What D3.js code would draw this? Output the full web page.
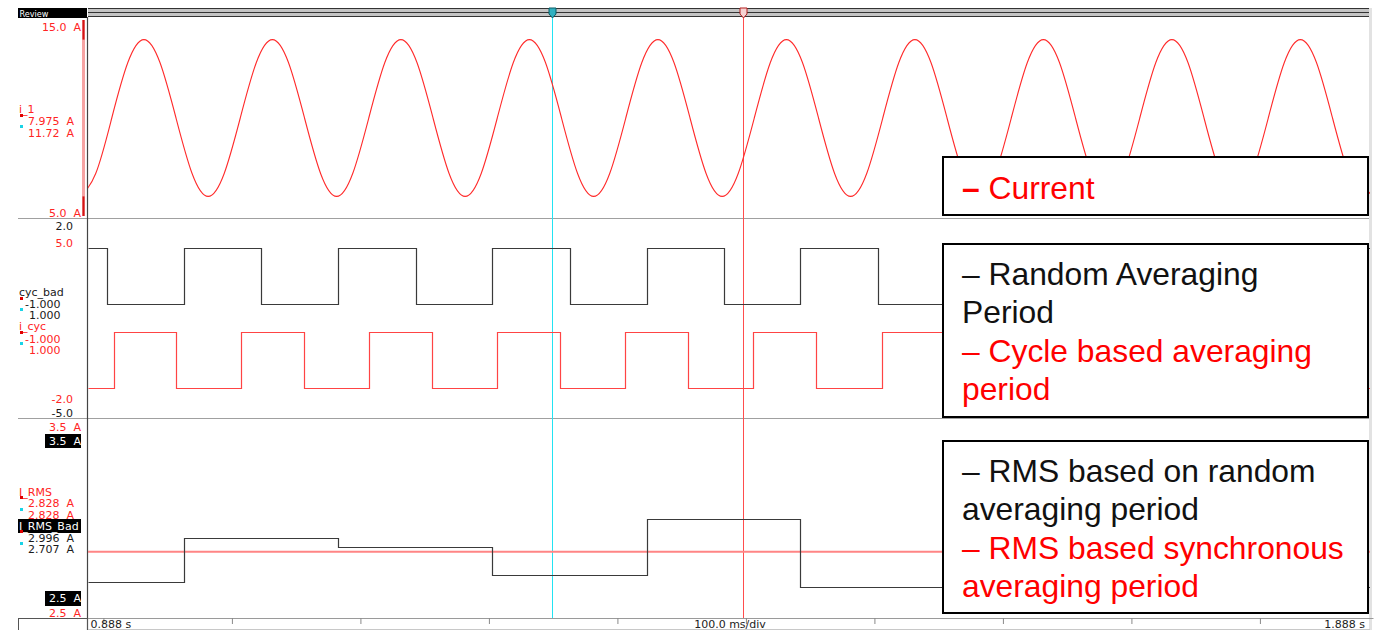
<!DOCTYPE html>
<html>
<head>
<meta charset="utf-8">
<script src="https://cdn.jsdelivr.net/npm/d3@7"></script>
<style>
  html, body { margin: 0; padding: 0; background: #fff; }
  svg { display: block; }
  .lbl { font-family: "DejaVu Sans", Verdana, sans-serif; font-size: 11px; white-space: pre; }
  .leg { font-family: "Liberation Sans", Arial, sans-serif; font-size: 31.8px; white-space: pre; }
</style>
</head>
<body>
<svg id="chart" width="1379" height="630"></svg>
<script>
// ---------------- data ----------------
const timeSpan = [0.888, 1.888];                       // seconds shown
const timeTicks = [0.9, 1.0, 1.1, 1.2, 1.3, 1.4, 1.5, 1.6, 1.7, 1.8];
const timeLabels = ["0.888 s", "100.0 ms/div", "1.888 s"];

// cursors: red (reference) and cyan
const cursorTimes = [1.3975, 1.2493];
const cursorNames = ["red", "cyan"];

// i_1 current, sampled every 1/8 cycle (A)
const currentT = [
  0.8815, 0.8940, 0.9065, 0.9190, 0.9315, 0.9440, 0.9565, 0.9690,
  0.9815, 0.9940, 1.0065, 1.0190, 1.0315, 1.0440, 1.0565, 1.0690,
  1.0815, 1.0940, 1.1065, 1.1190, 1.1315, 1.1440, 1.1565, 1.1690,
  1.1815, 1.1940, 1.2065, 1.2190, 1.2315, 1.2440, 1.2565, 1.2690,
  1.2815, 1.2940, 1.3065, 1.3190, 1.3315, 1.3440, 1.3565, 1.3690,
  1.3815, 1.3940, 1.4065, 1.4190, 1.4315, 1.4440, 1.4565, 1.4690,
  1.4815, 1.4940, 1.5065, 1.5190, 1.5315, 1.5440, 1.5565, 1.5690,
  1.5815, 1.5940, 1.6065, 1.6190, 1.6315, 1.6440, 1.6565, 1.6690,
  1.6815, 1.6940, 1.7065, 1.7190, 1.7315, 1.7440, 1.7565, 1.7690,
  1.7815, 1.7940, 1.8065, 1.8190, 1.8315, 1.8440, 1.8565, 1.8690,
  1.8815, 1.8940
];
const currentA = [
  6.00, 7.17, 10.00, 12.83, 14.00, 12.83, 10.00, 7.17,
  6.00, 7.17, 10.00, 12.83, 14.00, 12.83, 10.00, 7.17,
  6.00, 7.17, 10.00, 12.83, 14.00, 12.83, 10.00, 7.17,
  6.00, 7.17, 10.00, 12.83, 14.00, 12.83, 10.00, 7.17,
  6.00, 7.17, 10.00, 12.83, 14.00, 12.83, 10.00, 7.17,
  6.00, 7.17, 10.00, 12.83, 14.00, 12.83, 10.00, 7.17,
  6.00, 7.17, 10.00, 12.83, 14.00, 12.83, 10.00, 7.17,
  6.00, 7.17, 10.00, 12.83, 14.00, 12.83, 10.00, 7.17,
  6.00, 7.17, 10.00, 12.83, 14.00, 12.83, 10.00, 7.17,
  6.00, 7.17, 10.00, 12.83, 14.00, 12.83, 10.00, 7.17,
  6.00, 7.17
];

// cyc_bad: free-running averaging window (level after each edge)
const cycBadT = [0.888, 0.9026, 0.9627, 1.0226, 1.0823, 1.1430, 1.2024, 1.2631,
                 1.3228, 1.3829, 1.4423, 1.5028, 1.5627, 1.888];
const cycBadV = [1, -1, 1, -1, 1, -1, 1, -1, 1, -1, 1, -1, 1, 1];

// i_cyc: cycle-synchronous averaging window
const iCycT = [0.888, 0.9080, 0.9567, 1.0073, 1.0563, 1.1064, 1.1559, 1.2063, 1.2553,
               1.3061, 1.3547, 1.4053, 1.4545, 1.5059, 1.5550, 1.888];
const iCycV = [-1, 1, -1, 1, -1, 1, -1, 1, -1, 1, -1, 1, -1, 1, -1, -1];

// I_RMS_Bad: RMS over the free-running window (A)
const rmsBadT = [0.888, 0.9627, 1.0823, 1.2024, 1.3228, 1.4423, 1.888];
const rmsBadV = [2.673, 2.897, 2.854, 2.707, 2.996, 2.646, 2.646];

// I_RMS: RMS over the synchronous window (A)
const rmsSyncT = [0.888, 1.888];
const rmsSyncV = [2.828, 2.828];

// cursor readouts [red, cyan]
const i1Read = ["7.975", "11.72"];
const cycBadRead = ["-1.000", "1.000"];
const iCycRead = ["-1.000", "1.000"];
const rmsRead = ["2.828", "2.828"];
const rmsBadRead = ["2.996", "2.707"];

// vertical ranges per trace
const i1Range = [5, 15];
const cycBadRange = [-5, 2];
const iCycRange = [-2, 5];
const rmsRange = [2.5, 3.5];

// ---------------- drawing ----------------
const RED = "#ff2424", BLACK = "#1a1a1a";
const svg = d3.select("#chart");

const x = d3.scaleLinear().domain(timeSpan).range([88, 1373]);
const yI1 = d3.scaleLinear().domain(i1Range).range([216, 20]);
const yCycBad = d3.scaleLinear().domain(cycBadRange).range([416, 220]);
const yICyc = d3.scaleLinear().domain(iCycRange).range([416, 220]);
const yRms = d3.scaleLinear().domain(rmsRange).range([616, 420]);

const panels = [[18, 218], [218, 418], [418, 618]];
const defs = svg.append("defs");
panels.forEach((p, i) => {
  defs.append("clipPath").attr("id", "clip" + i)
    .append("rect").attr("x", 88).attr("y", p[0]).attr("width", 1282).attr("height", p[1] - p[0]);
});

// header bar
svg.append("rect").attr("x", 18).attr("y", 8).attr("width", 69).attr("height", 10).attr("fill", "#000");
svg.append("text").attr("x", 19.5).attr("y", 16.5).attr("fill", "#fff")
  .style("font-family", '"DejaVu Sans Condensed","DejaVu Sans",sans-serif').style("font-size", "9px").text("Review");
svg.append("rect").attr("x", 88).attr("y", 8).attr("width", 1282).attr("height", 9).attr("fill", "#c4c4c4");
[8.5, 12.5, 16.5].forEach(yy => {
  svg.append("line").attr("x1", 88).attr("x2", 1370).attr("y1", yy).attr("y2", yy)
    .attr("stroke", "#333").attr("stroke-width", 1.2);
});

// panel separators & frame
panels.forEach(p => {
  svg.append("line").attr("x1", 18).attr("x2", 1370).attr("y1", p[1] + 0.5).attr("y2", p[1] + 0.5)
    .attr("stroke", "#a0a0a0").attr("stroke-width", 1);
});
svg.append("line").attr("x1", 87.5).attr("x2", 87.5).attr("y1", 17).attr("y2", 630)
  .attr("stroke", "#444").attr("stroke-width", 1.2);
svg.append("rect").attr("x", 1369).attr("y", 8).attr("width", 3).attr("height", 622).attr("fill", "#e2e2e2");
svg.append("rect").attr("x", 18.5).attr("y", 618.5).attr("width", 69).attr("height", 13)
  .attr("fill", "none").attr("stroke", "#555");
svg.append("line").attr("x1", 88).attr("x2", 1370).attr("y1", 629.5).attr("y2", 629.5)
  .attr("stroke", "#c8c8c8");

// level bar of i_1
svg.append("rect").attr("x", 82).attr("y", 20).attr("width", 3).attr("height", 196).attr("fill", "#f6a3a3");
svg.append("rect").attr("x", 82.5).attr("y", yI1(15)).attr("width", 2).attr("height", yI1(14) - yI1(15)).attr("fill", "#d41414");
svg.append("rect").attr("x", 82.5).attr("y", yI1(6)).attr("width", 2).attr("height", yI1(5) - yI1(6)).attr("fill", "#d41414");

// cursors
const cursorStyle = {
  red:  { line: "#ff4d4d", fill: "#f6d2d2", edge: "#b31e1e" },
  cyan: { line: "#22e3f2", fill: "#2fb0c0", edge: "#0b5c66" }
};
cursorTimes.forEach((t, i) => {
  const s = cursorStyle[cursorNames[i]];
  const cx = Math.round(x(t)) + 0.5;
  svg.append("line").attr("x1", cx).attr("x2", cx).attr("y1", 17).attr("y2", 618)
    .attr("stroke", s.line).attr("stroke-width", 1);
});

// traces
const lineI1 = d3.line().x(d => x(d[0])).y(d => yI1(d[1])).curve(d3.curveNatural);
svg.append("path").attr("clip-path", "url(#clip0)")
  .attr("d", lineI1(d3.zip(currentT, currentA)))
  .attr("fill", "none").attr("stroke", "#ff2a2a").attr("stroke-width", 1.1);

function stepPath(ts, vs, yScale) {
  return d3.line().x(d => Math.round(x(d[0])) + 0.5).y(d => Math.round(yScale(d[1])) + 0.5)
    .curve(d3.curveStepAfter)(d3.zip(ts, vs));
}
svg.append("path").attr("clip-path", "url(#clip1)")
  .attr("d", stepPath(cycBadT, cycBadV, yCycBad))
  .attr("fill", "none").attr("stroke", "#3a3a3a").attr("stroke-width", 1.2);
svg.append("path").attr("clip-path", "url(#clip1)")
  .attr("d", stepPath(iCycT, iCycV, yICyc))
  .attr("fill", "none").attr("stroke", "#ff4444").attr("stroke-width", 1.2);

svg.append("path").attr("clip-path", "url(#clip2)")
  .attr("d", d3.line().x(d => x(d[0])).y(d => yRms(d[1]))(d3.zip(rmsSyncT, rmsSyncV)))
  .attr("fill", "none").attr("stroke", "#ff8585").attr("stroke-width", 2);
svg.append("path").attr("clip-path", "url(#clip2)")
  .attr("d", stepPath(rmsBadT, rmsBadV, yRms))
  .attr("fill", "none").attr("stroke", "#3a3a3a").attr("stroke-width", 1.2);

// cursor flags on the header bar
cursorTimes.forEach((t, i) => {
  const s = cursorStyle[cursorNames[i]];
  const cx = Math.round(x(t)) + 0.5;
  svg.append("path")
    .attr("d", `M${cx - 3.5},8 h7 v6 l-3.5,4 l-3.5,-4 z`)
    .attr("fill", s.fill).attr("stroke", s.edge).attr("stroke-width", 1);
});

// time axis
const axis = d3.axisBottom(x).tickValues(timeTicks).tickSize(6).tickSizeOuter(0).tickFormat("");
const axG = svg.append("g").attr("transform", "translate(0,618)").call(axis);
axG.select(".domain").attr("stroke", "#9a9a9a");
axG.selectAll(".tick line").attr("stroke", "#8a8a8a");
svg.append("text").attr("class", "lbl").attr("x", x(timeSpan[0]) + 2.5).attr("y", 628).attr("fill", "#222").text(timeLabels[0]);
svg.append("text").attr("class", "lbl").attr("x", 730).attr("y", 628).attr("text-anchor", "middle").attr("fill", "#222").text(timeLabels[1]);
svg.append("text").attr("class", "lbl").attr("x", 1365).attr("y", 628).attr("text-anchor", "end").attr("fill", "#222").text(timeLabels[2]);

// left-hand trace labels
const fmt1 = v => d3.format(".1f")(v).replace("\u2212", "-");
function label(txt, lx, ly, color, anchor) {
  svg.append("text").attr("class", "lbl").attr("x", lx).attr("y", ly)
    .attr("fill", color).attr("text-anchor", anchor || "start").text(txt);
}
function boxedLabel(txt, bx, by, bw, bh, lx, ly, anchor) {
  svg.append("rect").attr("x", bx).attr("y", by).attr("width", bw).attr("height", bh).attr("fill", "#000");
  label(txt, lx, ly, "#fff", anchor);
}
function marks(y1, y2) {
  svg.append("rect").attr("x", 20).attr("y", y1).attr("width", 3).attr("height", 3).attr("fill", "#e00000");
  svg.append("rect").attr("x", 20).attr("y", y2).attr("width", 3).attr("height", 3).attr("fill", "#19d3e6");
}

// panel 1
label(fmt1(i1Range[1]) + "  A", 81, 31, RED, "end");
label("i_1", 19, 113, RED);
marks(114, 125);
label(i1Read[0] + "  A", 28, 124.5, RED);
label(i1Read[1] + "  A", 28, 136.5, RED);
label(fmt1(i1Range[0]) + "  A", 81, 217, RED, "end");

// panel 2
label(fmt1(cycBadRange[1]), 73, 230, BLACK, "end");
label(fmt1(iCycRange[1]), 73, 246.5, RED, "end");
label("cyc_bad", 19, 296, BLACK);
marks(297, 308);
label(cycBadRead[0], 25, 308, BLACK);
label(cycBadRead[1], 29, 319, BLACK);
label("i_cyc", 19, 330, RED);
marks(331, 342);
label(iCycRead[0], 25, 343, RED);
label(iCycRead[1], 29, 354, RED);
label(fmt1(iCycRange[0]), 73, 403, RED, "end");
label(fmt1(cycBadRange[0]), 73, 417, BLACK, "end");

// panel 3
label(fmt1(rmsRange[1]) + "  A", 81, 431, RED, "end");
boxedLabel(fmt1(rmsRange[1]) + "  A", 45, 434, 36, 14, 81, 445, "end");
label("I_RMS", 19, 495.5, RED);
marks(496, 508);
label(rmsRead[0] + "  A", 28, 507, RED);
label(rmsRead[1] + "  A", 28, 518.5, RED);
boxedLabel("I_RMS_Bad", 18, 519, 63, 14, 19, 530);
marks(530, 542);
label(rmsBadRead[0] + "  A", 28, 542, BLACK);
label(rmsBadRead[1] + "  A", 28, 553, BLACK);
boxedLabel(fmt1(rmsRange[0]) + "  A", 45, 591, 36, 15, 81, 602, "end");
label(fmt1(rmsRange[0]) + "  A", 81, 616.5, RED, "end");

// legend boxes
const legendBoxes = [
  { y: 157, h: 58, lines: [
    { parts: [["–", "bold"], [" Current", "normal"]], color: "#ff0000", y: 199 }
  ]},
  { y: 244, h: 173, lines: [
    { parts: [["– Random Averaging", "normal"]], color: "#111", y: 285 },
    { parts: [["Period", "normal"]], color: "#111", y: 323 },
    { parts: [["– Cycle based averaging", "normal"]], color: "#ff0000", y: 362 },
    { parts: [["period", "normal"]], color: "#ff0000", y: 400 }
  ]},
  { y: 441, h: 172, lines: [
    { parts: [["– RMS based on random", "normal"]], color: "#111", y: 482 },
    { parts: [["averaging period", "normal"]], color: "#111", y: 520 },
    { parts: [["– RMS based synchronous", "normal"]], color: "#ff0000", y: 559 },
    { parts: [["averaging period", "normal"]], color: "#ff0000", y: 597 }
  ]}
];
legendBoxes.forEach(b => {
  svg.append("rect").attr("x", 943).attr("y", b.y).attr("width", 425).attr("height", b.h)
    .attr("fill", "#fff").attr("stroke", "#000").attr("stroke-width", 2);
  b.lines.forEach(l => {
    const t = svg.append("text").attr("class", "leg").attr("x", 962).attr("y", l.y).attr("fill", l.color);
    l.parts.forEach(p => t.append("tspan").attr("font-weight", p[1]).text(p[0]));
  });
});
</script>
</body>
</html>
